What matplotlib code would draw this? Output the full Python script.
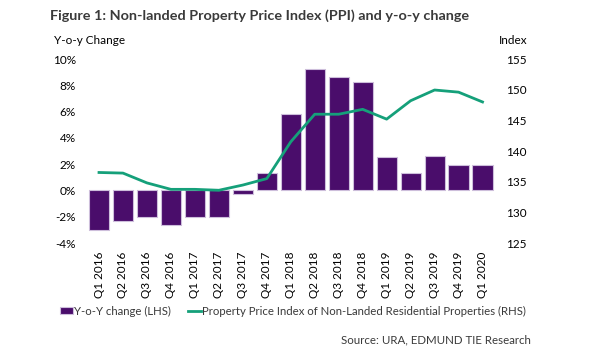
import numpy as np
import matplotlib.pyplot as plt

# --------------------------------------------------
# Data
# --------------------------------------------------

quarters = [
    "Q1 2016", "Q2 2016", "Q3 2016", "Q4 2016",
    "Q1 2017", "Q2 2017", "Q3 2017", "Q4 2017",
    "Q1 2018", "Q2 2018", "Q3 2018", "Q4 2018",
    "Q1 2019", "Q2 2019", "Q3 2019", "Q4 2019",
    "Q1 2020",
]

yoy_change = [
    -3.0, -2.35, -2.0, -2.6,
    -2.0, -2.0, -0.25, 1.35,
    5.8, 9.25, 8.6, 8.25,
    2.55, 1.35, 2.65, 1.9,
    1.95,
]

ppi = [
    136.5, 136.4, 134.8, 133.75,
    133.75, 133.6, 134.45, 135.5,
    141.5, 146.0, 146.0, 146.8,
    145.2, 148.2, 149.95, 149.6,
    148.0,
]

left_ticks = [-4, -2, 0, 2, 4, 6, 8, 10]
right_ticks = [125, 130, 135, 140, 145, 150, 155]

# --------------------------------------------------
# Style
# --------------------------------------------------

plt.rcParams["font.family"] = ["Lato", "DejaVu Sans"]

PURPLE = "#4a0d6b"
EDGE = "#cdbedb"
GREEN = "#15a07a"
TEXT = "#3a3a3a"

fig = plt.figure(figsize=(6.01, 3.60), dpi=100)
ax = fig.add_axes([0.1448, 0.325, 0.678, 0.511])

x = np.arange(len(quarters))

bars = ax.bar(
    x,
    yoy_change,
    width=0.84,
    color=PURPLE,
    edgecolor=EDGE,
    linewidth=0.8,
    label="Y-o-Y change (LHS)",
    zorder=2
)

ax.set_xlim(-0.5, len(quarters) - 0.5)
ax.set_ylim(-4, 10)
ax.set_yticks(left_ticks)
ax.set_yticklabels([f"{t}%" for t in left_ticks])

ax.set_xticks(x)
ax.set_xticklabels(quarters, rotation=90)

ax2 = ax.twinx()
line, = ax2.plot(
    x,
    ppi,
    color=GREEN,
    linewidth=2.0,
    label="Property Price Index of Non-Landed Residential Properties (RHS)",
    zorder=3
)
ax2.set_ylim(125, 155)
ax2.set_yticks(right_ticks)

for a in (ax, ax2):
    for s in a.spines.values():
        s.set_visible(False)
    a.tick_params(length=0, labelsize=8.5, colors="black", pad=8)

ax.tick_params(axis="x", pad=6)

# --------------------------------------------------
# Texts
# --------------------------------------------------

fig.text(
    50 / 601, 1 - 16 / 360,
    "Figure 1: Non-landed Property Price Index (PPI) and y-o-y change",
    fontsize=10.4,
    fontweight="bold",
    color=TEXT,
    va="center",
    ha="left"
)

fig.text(
    54 / 601, 1 - 41 / 360,
    "Y-o-y Change",
    fontsize=8.5,
    va="center",
    ha="left"
)

fig.text(
    527 / 601, 1 - 41 / 360,
    "Index",
    fontsize=8.5,
    va="center",
    ha="right"
)

fig.legend(
    [bars, line],
    [bars.get_label(), line.get_label()],
    loc="center",
    bbox_to_anchor=(293 / 601, 1 - 311 / 360),
    ncol=2,
    frameon=False,
    fontsize=8.2,
    handlelength=1.1,
    handleheight=0.6,
    handletextpad=0.1,
    columnspacing=1.5,
    labelcolor=TEXT
)

fig.text(
    531 / 601, 1 - 340 / 360,
    "Source: URA, EDMUND TIE Research",
    fontsize=8.3,
    color=TEXT,
    va="center",
    ha="right"
)

fig.savefig("out.png", dpi=100)
